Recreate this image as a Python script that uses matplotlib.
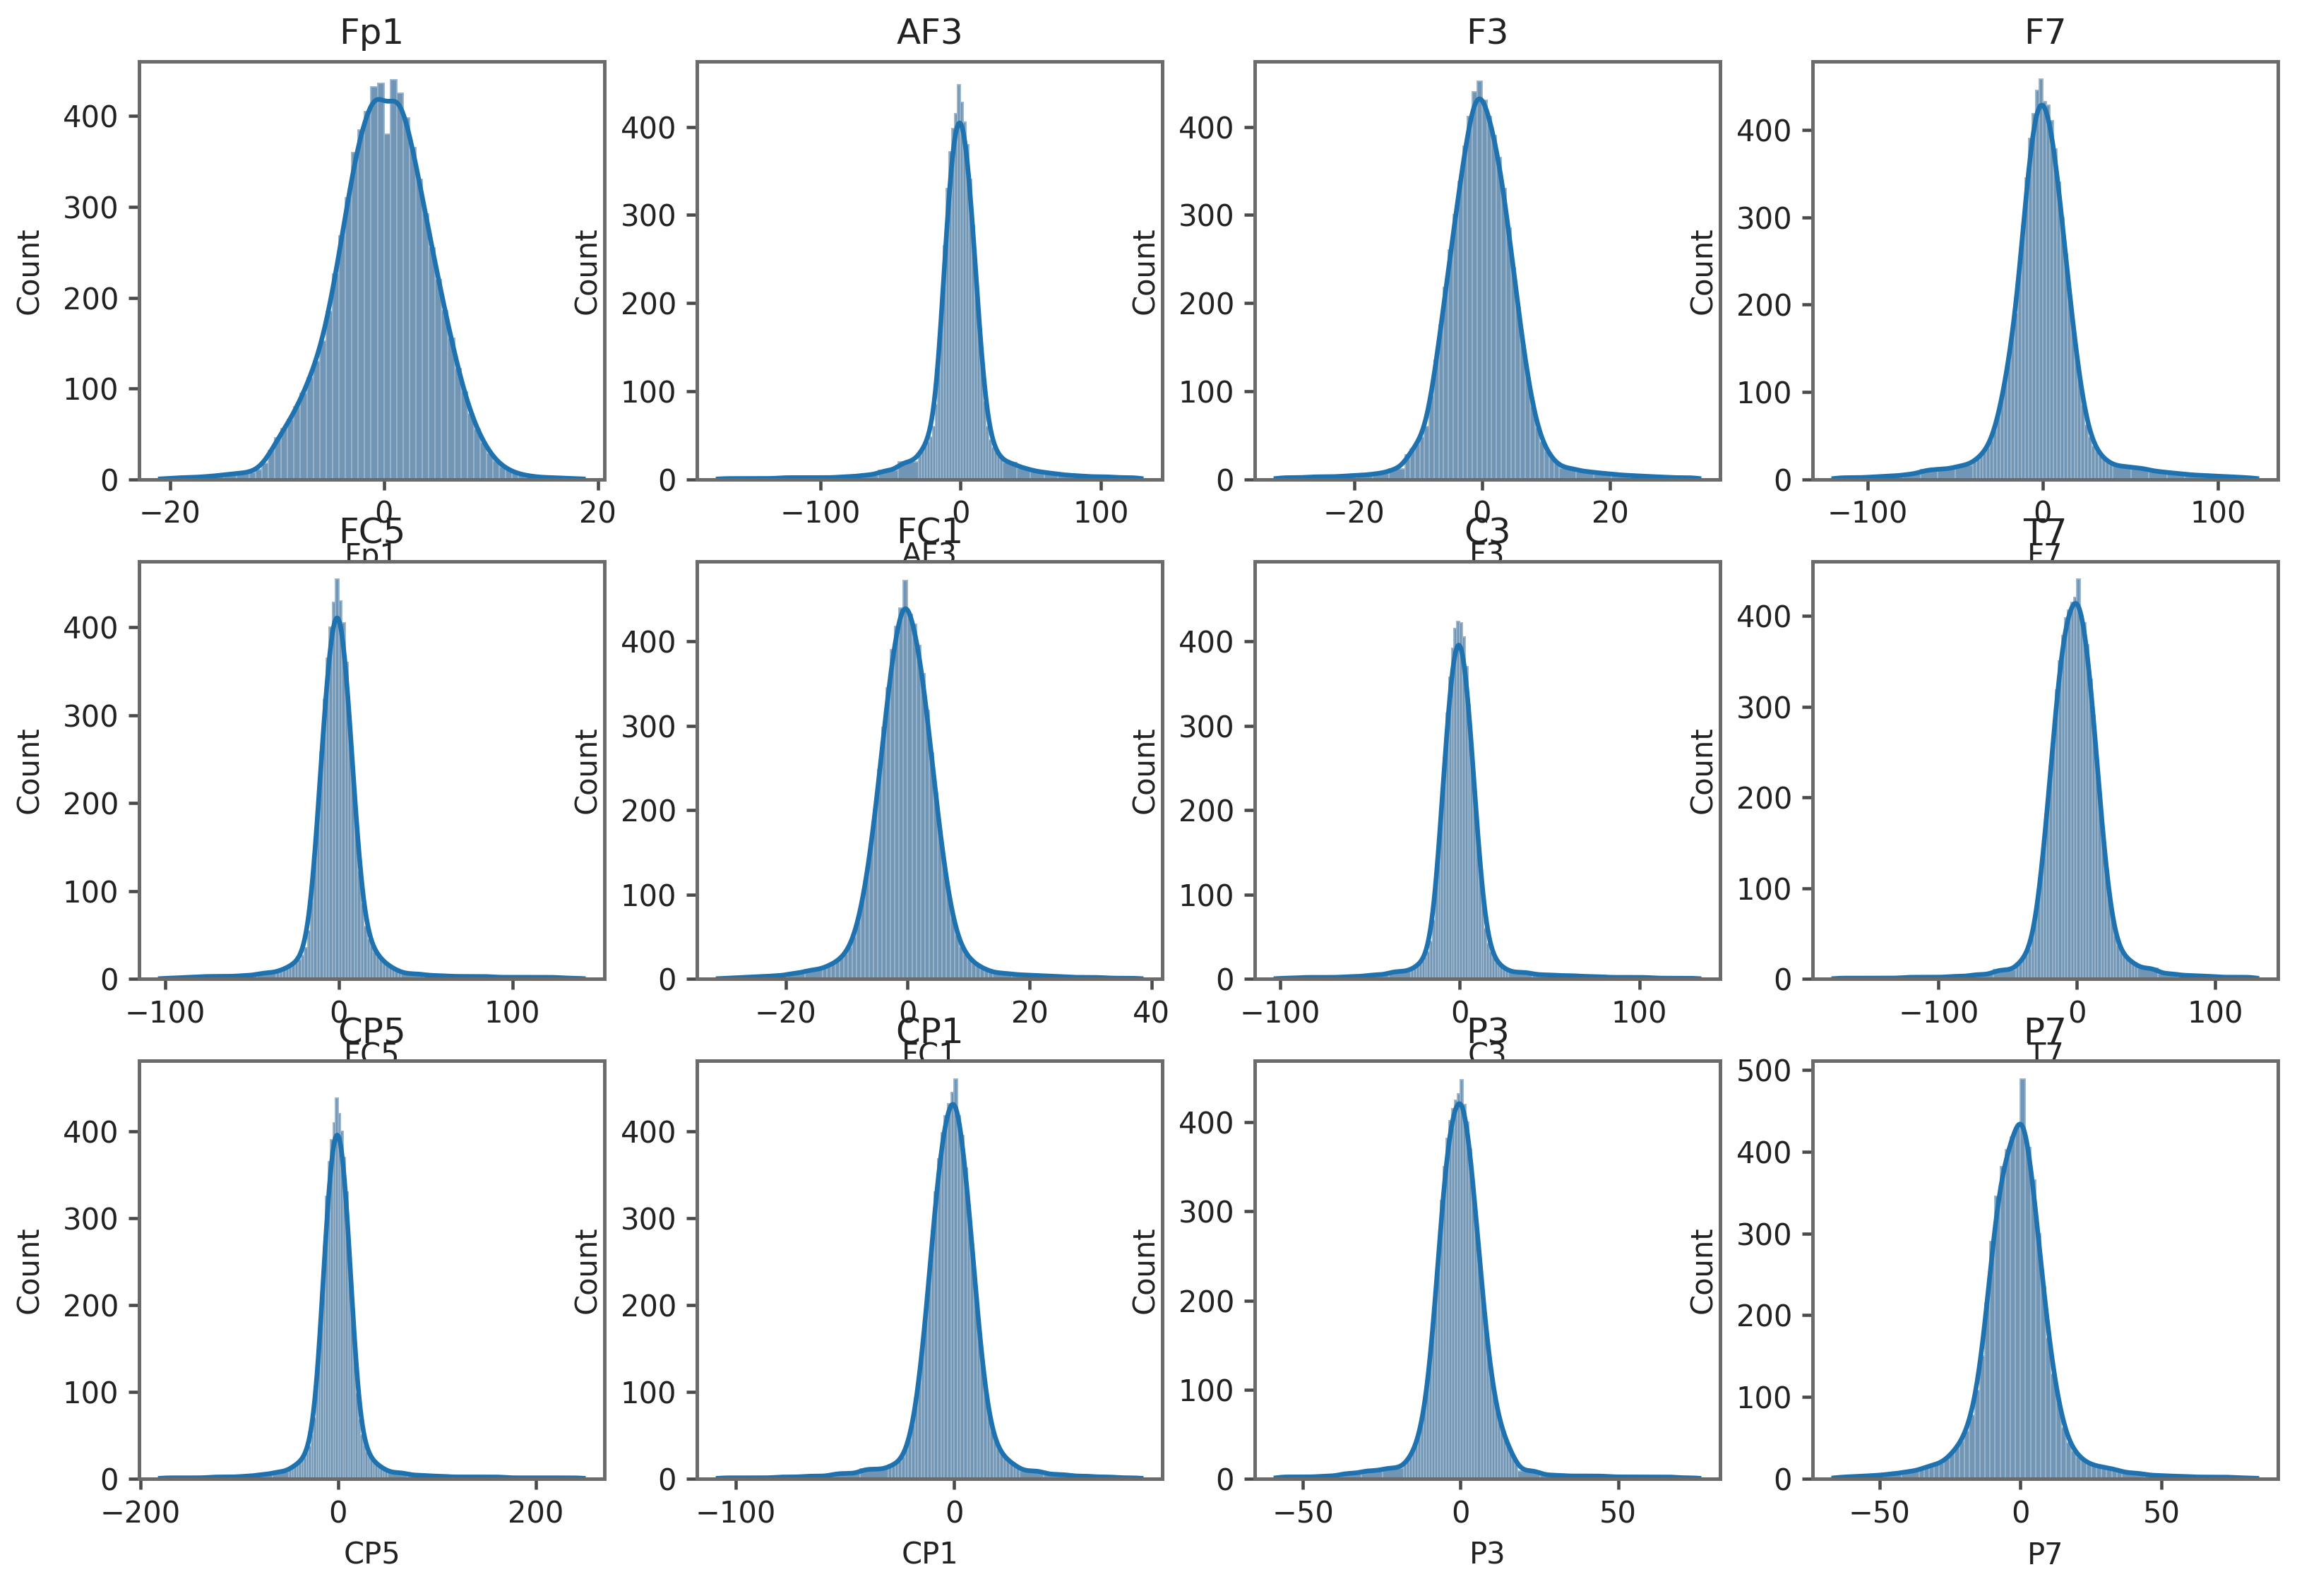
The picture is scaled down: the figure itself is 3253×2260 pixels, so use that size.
import math
import numpy as np
import matplotlib
matplotlib.use('Agg')
import matplotlib.pyplot as plt
from matplotlib.ticker import MultipleLocator

plt.rcParams['font.family'] = ['DejaVu Sans']
plt.rcParams['font.size'] = 10
plt.rcParams['axes.titlesize'] = 12
plt.rcParams['axes.labelsize'] = 10
plt.rcParams['text.color'] = '#222222'
plt.rcParams['axes.labelcolor'] = '#222222'
plt.rcParams['xtick.color'] = '#222222'
plt.rcParams['ytick.color'] = '#222222'

channels = ['Fp1', 'AF3', 'F3', 'F7', 'FC5', 'FC1', 'C3', 'T7', 'CP5', 'CP1', 'P3', 'P7']

# span = data min, start of fine bins, end of fine bins, data max
# left / right = coarse tail bars, core = fine bars (all heights in counts)
fp1_span = [-20.9, -12.6, 14.4, 18.65]
fp1_left = [1, 2, 2, 3, 4, 6, 7]
fp1_core = [8, 11, 18, 32, 46, 56, 66, 80, 95, 112, 130, 152, 185, 226, 268, 310, 360, 385, 405, 432, 436,
            380, 440, 425, 398, 365, 330, 292, 255, 220, 186, 155, 122, 96, 72, 55, 40, 29, 20, 14, 10, 7, 5, 4, 3]
fp1_right = [2, 2, 1, 1]

af3_span = [-172.7, -30, 30, 128.7]
af3_left = [1, 1, 1, 2, 2, 2, 3, 5, 10, 20]
af3_core = [32, 35, 38, 42, 48, 60, 85, 125, 190, 265, 330, 372, 398, 415, 448,
            428, 405, 380, 340, 288, 230, 175, 125, 88, 60, 45, 36, 31, 27, 24]
af3_right = [19, 13, 9, 7, 5, 4, 3, 3, 2, 2]

f3_span = [-32.2, -12, 12, 33.9]
f3_left = [2, 2, 3, 3, 4, 5, 7, 12]
f3_core = [28, 34, 40, 48, 60, 95, 135, 175, 218, 260, 300, 338, 378, 412, 440, 452,
           430, 412, 390, 365, 330, 285, 240, 195, 152, 115, 82, 58, 42, 32, 24, 18]
f3_right = [13, 9, 7, 5, 4, 3, 2, 2]

f7_span = [-119.2, -40, 40, 122.2]
f7_left = [2, 2, 3, 4, 6, 11, 12, 16]
f7_core = [22, 24, 27, 31, 36, 44, 56, 72, 92, 115, 140, 165, 190, 235, 290, 345, 390, 418, 445, 458,
           432, 428, 410, 378, 340, 300, 258, 214, 180, 145, 112, 85, 62, 48, 38, 32, 27, 23, 20, 18]
f7_right = [15, 13, 9, 7, 5, 4, 3, 2]

fc5_span = [-102.8, -36, 36, 140.9]
fc5_left = [1, 2, 3, 3, 4, 7]
fc5_core = [9, 10, 11, 13, 15, 17, 19, 22, 27, 36, 55, 88, 135, 195, 258, 318, 365, 400, 428, 455,
            430, 405, 360, 300, 238, 175, 122, 85, 60, 45, 37, 31, 27, 23, 19, 16, 14, 12, 10, 9]
fc5_right = [6, 4, 3, 3, 2, 2, 2, 1]

fc1_span = [-31.1, -14, 14, 38.3]
fc1_left = [1, 2, 3, 4, 7, 11]
fc1_core = [14, 16, 18, 21, 25, 30, 38, 50, 68, 92, 122, 158, 200, 248, 298, 345, 390, 418, 440, 472,
            432, 420, 395, 362, 318, 268, 220, 175, 135, 100, 72, 52, 38, 30, 24, 19, 16, 13, 11, 9]
fc1_right = [7, 5, 4, 3, 2, 2, 1, 1]

c3_span = [-102.2, -27, 27, 133.2]
c3_left = [1, 2, 2, 3, 5, 9]
c3_core = [13, 14, 16, 18, 21, 25, 32, 45, 70, 110, 160, 212, 262, 315, 358, 392, 415, 424,
           422, 405, 370, 325, 275, 228, 175, 125, 88, 60, 42, 32, 25, 20, 17, 15, 13, 11]
c3_right = [8, 5, 4, 3, 2, 2, 1, 1]

t7_span = [-175.7, -44, 44, 130.1]
t7_left = [1, 1, 1, 2, 2, 3, 5, 10]
t7_core = [17, 19, 22, 26, 33, 45, 62, 88, 120, 155, 195, 235, 272, 318, 350, 378, 398, 406, 415, 420,
           440, 400, 392, 368, 330, 290, 245, 198, 158, 122, 90, 66, 48, 37, 30, 26, 22, 20, 18, 16]
t7_right = [12, 6, 4, 3, 2, 2]

cp5_span = [-180, -50, 50, 248]
cp5_left = [1, 1, 1, 2, 2, 3, 5, 8]
cp5_core = [12, 14, 15, 17, 19, 21, 24, 29, 37, 50, 70, 98, 140, 200, 268, 325, 365, 390, 410, 438,
            420, 400, 370, 330, 270, 205, 145, 98, 68, 50, 38, 31, 26, 22, 19, 17, 15, 13, 11, 10]
cp5_right = [7, 4, 3, 2, 2, 2, 1, 1, 1, 1]

cp1_span = [-108.1, -30, 30, 85.7]
cp1_left = [1, 1, 2, 3, 6, 11]
cp1_core = [16, 16, 17, 20, 25, 33, 45, 62, 85, 115, 152, 192, 235, 285, 330, 368, 398, 418, 432, 445,
            460, 418, 395, 358, 315, 270, 222, 172, 132, 100, 74, 55, 42, 34, 29, 24, 21, 18, 16, 14]
cp1_right = [9, 5, 3, 2, 1]

p3_span = [-58.5, -18, 18, 75.6]
p3_left = [2, 2, 3, 6, 9, 12]
p3_core = [17, 21, 25, 30, 37, 47, 60, 78, 102, 132, 170, 215, 262, 312, 350, 382, 402, 415, 425, 432,
           448, 420, 400, 370, 330, 292, 255, 215, 178, 148, 120, 98, 80, 66, 55, 46, 40, 32, 25, 20]
p3_right = [9, 4, 3, 3, 2, 2, 2, 1]

p7_span = [-66.2, -36, 36, 83.9]
p7_left = [2, 3, 4, 6, 9]
p7_core = [12, 15, 17, 17, 19, 24, 31, 38, 46, 58, 78, 108, 150, 215, 290, 345, 382, 402, 418, 430,
           489, 405, 365, 300, 235, 172, 128, 92, 62, 44, 34, 27, 22, 18, 16, 15, 14, 13, 12, 10]
p7_right = [7, 4, 3, 2, 2, 1]

spans = [fp1_span, af3_span, f3_span, f7_span, fc5_span, fc1_span, c3_span, t7_span, cp5_span, cp1_span, p3_span, p7_span]
lefts = [fp1_left, af3_left, f3_left, f7_left, fc5_left, fc1_left, c3_left, t7_left, cp5_left, cp1_left, p3_left, p7_left]
cores = [fp1_core, af3_core, f3_core, f7_core, fc5_core, fc1_core, c3_core, t7_core, cp5_core, cp1_core, p3_core, p7_core]
rights = [fp1_right, af3_right, f3_right, f7_right, fc5_right, fc1_right, c3_right, t7_right, cp5_right, cp1_right, p3_right, p7_right]

y_tops = [460, 474, 474, 478, 475, 495, 495, 460, 481, 481, 469, 511]
x_steps = [20, 100, 20, 100, 100, 20, 100, 100, 200, 100, 50, 50]

erf = np.vectorize(math.erf)


def build_edges(span, n_left, n_core, n_right):
    lo, c0, c1, hi = span
    left = np.linspace(lo, c0, n_left + 1)
    core = np.linspace(c0, c1, n_core + 1)
    right = np.linspace(c1, hi, n_right + 1)
    return np.concatenate([left[:-1], core[:-1], right])


def kde_line(edges, heights, core_w, xs):
    # gaussian kde (scott bandwidth) of the binned counts, in bar-height units
    centers = (edges[:-1] + edges[1:]) / 2
    widths = np.diff(edges)
    n = heights * widths / core_w
    total = n.sum()
    mean = (n * centers).sum() / total
    var = (n * ((centers - mean) ** 2 + widths ** 2 / 12)).sum() / total
    bw = np.sqrt(var) * total ** (-0.2)
    za = (xs[:, None] - edges[None, :-1]) / (bw * np.sqrt(2))
    zb = (xs[:, None] - edges[None, 1:]) / (bw * np.sqrt(2))
    return (heights[None, :] * 0.5 * (erf(za) - erf(zb))).sum(axis=1)


fig, axes = plt.subplots(3, 4, figsize=(3253 / 300, 2260 / 300), dpi=300)
fig.subplots_adjust(left=0.0606, right=0.9917, top=0.9614, bottom=0.0735, wspace=0.199, hspace=0.196)

for i, ax in enumerate(axes.flat):
    span = spans[i]
    edges = build_edges(span, len(lefts[i]), len(cores[i]), len(rights[i]))
    heights = np.array(lefts[i] + cores[i] + rights[i], dtype=float)
    centers = (edges[:-1] + edges[1:]) / 2
    core_w = (span[2] - span[1]) / len(cores[i])

    ax.hist(centers, bins=edges, weights=heights, color='#7196b5', edgecolor='#98b3ca', linewidth=0.45)
    xs = np.linspace(span[0], span[3], 700)
    ax.plot(xs, kde_line(edges, heights, core_w, xs), color='#1f72b0', linewidth=1.6)

    ax.set_ylim(0, y_tops[i])
    ax.xaxis.set_major_locator(MultipleLocator(x_steps[i]))
    ax.yaxis.set_major_locator(MultipleLocator(100))
    ax.set_title(channels[i])
    ax.set_xlabel(channels[i])
    ax.set_ylabel('Count', labelpad=6)
    for sp in ax.spines.values():
        sp.set_color('#6b6b6b')
        sp.set_linewidth(1.2)
    ax.tick_params(width=1.1, color='#4a4a4a')

fig.savefig('out.png', dpi=300)
